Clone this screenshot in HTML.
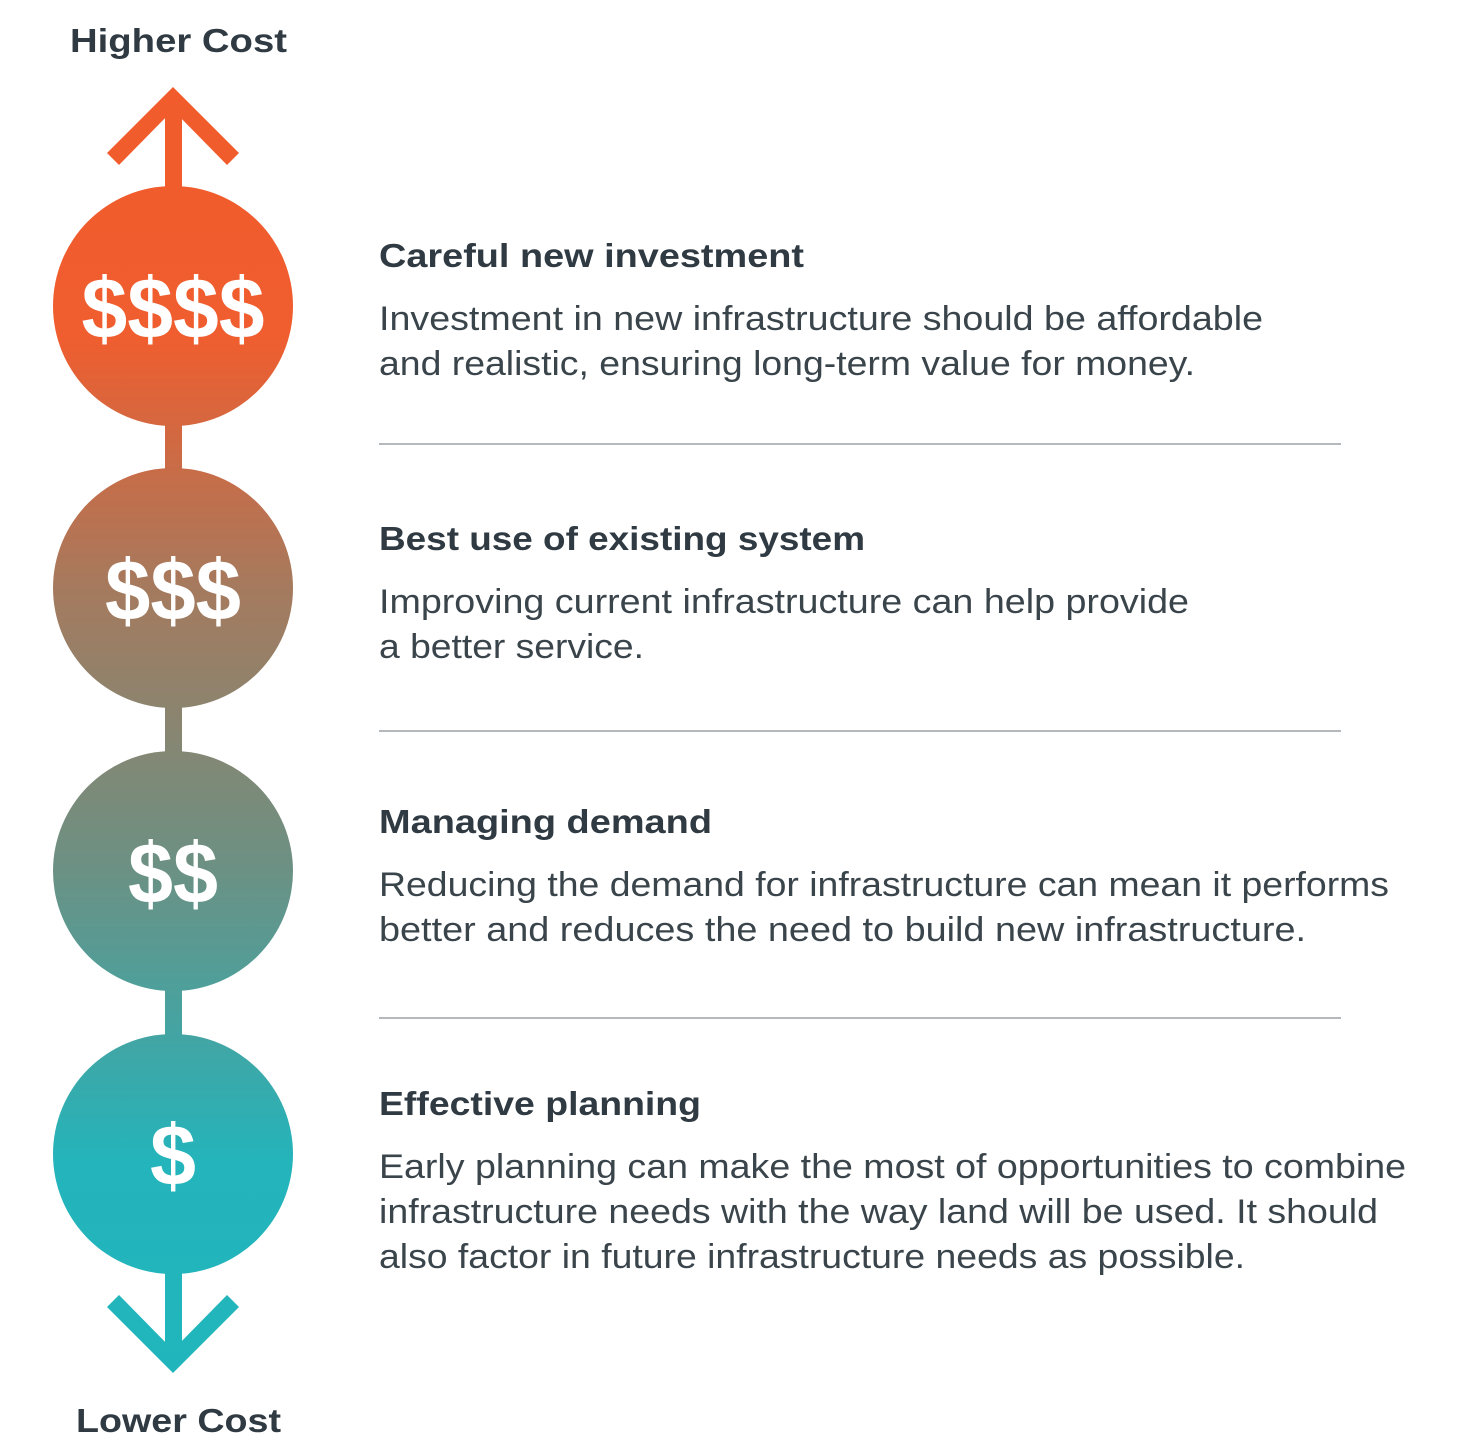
<!DOCTYPE html>
<html><head><meta charset="utf-8"><style>
html,body{margin:0;padding:0;background:#fff;}
svg{display:block;}
.h{font-family:"Liberation Sans",sans-serif;font-weight:bold;font-size:33px;fill:#2f3a42;}
.b{font-family:"Liberation Sans",sans-serif;font-size:34px;fill:#3a444b;}
.d{font-family:"Liberation Sans",sans-serif;font-weight:bold;font-size:86px;fill:#fff;}
</style></head><body>
<svg width="1460" height="1452" viewBox="0 0 1460 1452" xmlns="http://www.w3.org/2000/svg">
<defs>
<linearGradient id="g" gradientUnits="userSpaceOnUse" x1="0" y1="0" x2="0" y2="1452">
<stop offset="0" stop-color="#f25b2b"/>
<stop offset="0.23" stop-color="#f05d2e"/>
<stop offset="0.405" stop-color="#a57a5e"/>
<stop offset="0.6" stop-color="#6b9184"/>
<stop offset="0.8" stop-color="#24b4bb"/>
<stop offset="1" stop-color="#1fb6bd"/>
</linearGradient>
</defs>
<g fill="url(#g)">
<rect x="165" y="97" width="17" height="1266"/>
<polygon points="173,87 239,153 227,165 173,110 119,165 107,153"/>
<polygon points="173,1373 239,1307 227,1295 173,1350 119,1295 107,1307"/>
<circle cx="173" cy="306" r="120"/>
<circle cx="173" cy="588" r="120"/>
<circle cx="173" cy="871" r="120"/>
<circle cx="173" cy="1154" r="120"/>
</g>
<text class="d" x="173" y="338" text-anchor="middle" textLength="183" lengthAdjust="spacingAndGlyphs">$$$$</text>
<text class="d" x="173" y="620" text-anchor="middle" textLength="136" lengthAdjust="spacingAndGlyphs">$$$</text>
<text class="d" x="173" y="903" text-anchor="middle" textLength="90" lengthAdjust="spacingAndGlyphs">$$</text>
<text class="d" x="173" y="1185" text-anchor="middle" textLength="46" lengthAdjust="spacingAndGlyphs">$</text>

<text class="h" x="70" y="52" textLength="217" lengthAdjust="spacingAndGlyphs">Higher Cost</text>
<text class="h" x="76" y="1432" textLength="205" lengthAdjust="spacingAndGlyphs">Lower Cost</text>

<g stroke="#8a8f93" stroke-width="1.3">
<line x1="379" y1="444" x2="1341" y2="444"/>
<line x1="379" y1="731" x2="1341" y2="731"/>
<line x1="379" y1="1018" x2="1341" y2="1018"/>
</g>

<text class="h" x="379" y="267" textLength="425" lengthAdjust="spacingAndGlyphs">Careful new investment</text>
<text class="b" x="379" y="330" textLength="884" lengthAdjust="spacingAndGlyphs">Investment in new infrastructure should be affordable</text>
<text class="b" x="379" y="375" textLength="816" lengthAdjust="spacingAndGlyphs">and realistic, ensuring long-term value for money.</text>

<text class="h" x="379" y="550" textLength="486" lengthAdjust="spacingAndGlyphs">Best use of existing system</text>
<text class="b" x="379" y="613" textLength="810" lengthAdjust="spacingAndGlyphs">Improving current infrastructure can help provide</text>
<text class="b" x="379" y="658" textLength="265" lengthAdjust="spacingAndGlyphs">a better service.</text>

<text class="h" x="379" y="833" textLength="333" lengthAdjust="spacingAndGlyphs">Managing demand</text>
<text class="b" x="379" y="896" textLength="1010" lengthAdjust="spacingAndGlyphs">Reducing the demand for infrastructure can mean it performs</text>
<text class="b" x="379" y="941" textLength="927" lengthAdjust="spacingAndGlyphs">better and reduces the need to build new infrastructure.</text>

<text class="h" x="379" y="1115" textLength="322" lengthAdjust="spacingAndGlyphs">Effective planning</text>
<text class="b" x="379" y="1178" textLength="1027" lengthAdjust="spacingAndGlyphs">Early planning can make the most of opportunities to combine</text>
<text class="b" x="379" y="1223" textLength="999" lengthAdjust="spacingAndGlyphs">infrastructure needs with the way land will be used. It should</text>
<text class="b" x="379" y="1268" textLength="866" lengthAdjust="spacingAndGlyphs">also factor in future infrastructure needs as possible.</text>
</svg>
</body></html>
